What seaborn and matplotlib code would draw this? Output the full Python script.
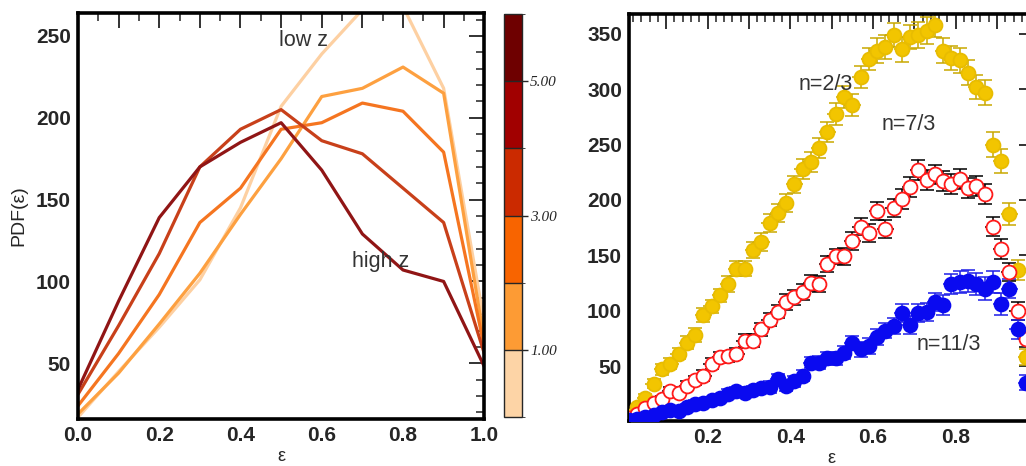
import numpy as np
import pandas as pd
import matplotlib
matplotlib.use("Agg")
import matplotlib.pyplot as plt
import matplotlib.colors as mcolors
from matplotlib.ticker import MultipleLocator, FuncFormatter
import seaborn as sns

# ---- left panel: PDF(eps) for several redshift bins ----
eps_grid = [0.0, 0.1, 0.2, 0.3, 0.4, 0.5, 0.6, 0.7, 0.8, 0.9, 1.0]
z_bins = ["z0", "z1", "z2", "z3", "z4"]
pdf_z0 = [17, 45, 72, 101, 145, 207, 239, 266, 268, 218, 75]
pdf_z1 = [19, 44, 74, 105, 141, 175, 213, 218, 231, 215, 64]
pdf_z2 = [24, 56, 92, 136, 157, 193, 197, 209, 204, 179, 60]
pdf_z3 = [31, 73, 117, 170, 193, 205, 186, 178, 157, 136, 56]
pdf_z4 = [34, 88, 139, 170, 185, 197, 168, 129, 107, 100, 48]
line_colors = ["#FDD0A2", "#FDA040", "#F57520", "#C8401A", "#901515"]

# colorbar bins
cbar_bounds = [0, 1, 2, 3, 4, 5, 6]
cbar_colors = ["#FDD4A6", "#FD9B34", "#F86400", "#CB2A00", "#A10000", "#6E0000"]
cbar_ticks = [1, 3, 5]

# ---- right panel: PDF for three spectral indices ----
eps_pts = [0.01, 0.03, 0.05, 0.07, 0.09, 0.11, 0.13, 0.15, 0.17, 0.19,
           0.21, 0.23, 0.25, 0.27, 0.29, 0.31, 0.33, 0.35, 0.37, 0.39,
           0.41, 0.43, 0.45, 0.47, 0.49, 0.51, 0.53, 0.55, 0.57, 0.59,
           0.61, 0.63, 0.65, 0.67, 0.69, 0.71, 0.73, 0.75, 0.77, 0.79,
           0.81, 0.83, 0.85, 0.87, 0.89, 0.91, 0.93, 0.95, 0.97]
n23 = [5, 13, 21, 34, 47, 52, 61, 71, 78, 96,
       104, 114, 124, 138, 138, 155, 162, 179, 188, 197,
       214, 228, 234, 247, 261, 278, 293, 286, 311, 327,
       335, 338, 349, 336, 347, 349, 353, 358, 335, 328,
       326, 315, 302, 297, 250, 235, 187, 137, 58]
n23_err = [3, 3, 4, 4, 5, 5, 5, 6, 6, 6,
           6, 6, 7, 7, 7, 7, 8, 8, 8, 8,
           8, 9, 9, 9, 9, 10, 10, 10, 10, 10,
           11, 11, 11, 11, 11, 12, 12, 11, 11, 11,
           11, 11, 11, 11, 11, 11, 10, 9, 7]
n73 = [3, 7, 12, 17, 20, 27, 26, 32, 37, 41,
       52, 58, 59, 61, 73, 73, 83, 92, 99, 108,
       112, 117, 125, 124, 142, 149, 149, 163, 176, 170,
       190, 174, 193, 201, 212, 227, 218, 223, 217, 214,
       219, 211, 213, 205, 176, 156, 135, 100, 74]
n73_err = [2, 2, 3, 3, 3, 4, 4, 4, 4, 5,
           5, 5, 5, 5, 6, 6, 6, 6, 6, 7,
           7, 7, 7, 7, 7, 7, 8, 8, 8, 8,
           8, 8, 8, 9, 9, 9, 9, 9, 9, 9,
           9, 9, 9, 9, 9, 9, 8, 8, 7]
n113 = [1, 2, 4, 6, 8, 10, 9, 13, 16, 17,
        19, 21, 25, 27, 26, 28, 30, 31, 38, 32,
        36, 41, 53, 53, 57, 57, 62, 71, 65, 68,
        76, 82, 86, 98, 87, 98, 99, 108, 105, 124,
        126, 127, 124, 120, 126, 106, 120, 83, 35]
n113_err = [1, 1, 2, 2, 2, 2, 3, 3, 3, 3,
            3, 3, 4, 4, 4, 4, 4, 5, 5, 5,
            5, 5, 5, 6, 6, 6, 6, 6, 7, 7,
            7, 7, 7, 8, 8, 8, 8, 8, 9, 9,
            10, 10, 10, 10, 10, 10, 9, 9, 7]

# ---- style ----
sns.set_style("white")
plt.rcParams["font.family"] = ["Liberation Sans", "DejaVu Sans"]
plt.rcParams["axes.linewidth"] = 2.6

fig = plt.figure(figsize=(10.26, 4.66), dpi=100)
ax1 = fig.add_axes([0.076, 0.101, 0.396, 0.871])
cax = fig.add_axes([0.491, 0.105, 0.0175, 0.865])
ax2 = fig.add_axes([0.613, 0.097, 0.395, 0.873])

# left panel lines
rows = []
for zname, vals in zip(z_bins, [pdf_z0, pdf_z1, pdf_z2, pdf_z3, pdf_z4]):
    for e, v in zip(eps_grid, vals):
        rows.append({"eps": e, "pdf": v, "zbin": zname})
df_left = pd.DataFrame(rows)
sns.lineplot(data=df_left, x="eps", y="pdf", hue="zbin", palette=line_colors,
             linewidth=2.3, legend=False, ax=ax1)
ax1.set_xlim(0, 1)
ax1.set_ylim(16, 264)
ax1.set_xlabel("ε", fontsize=13, labelpad=2)
ax1.set_ylabel("PDF(ε)", fontsize=14, labelpad=6)
ax1.text(0.554, 247, "low z", fontsize=15.5, color="#333333", ha="center", va="center")
ax1.text(0.744, 112, "high z", fontsize=15.5, color="#333333", ha="center", va="center")


def even_label(v, pos):
    k = int(round(v * 10))
    return f"{v:.1f}" if k % 2 == 0 else ""


def style_axis(ax, xminor, yminor):
    ax.xaxis.set_major_locator(MultipleLocator(0.1))
    ax.xaxis.set_major_formatter(FuncFormatter(even_label))
    ax.xaxis.set_minor_locator(MultipleLocator(xminor))
    ax.yaxis.set_major_locator(MultipleLocator(50))
    ax.yaxis.set_minor_locator(MultipleLocator(yminor))
    ax.tick_params(which="major", direction="in", length=11, width=1.3,
                   top=True, right=True, labelsize=15, pad=5, color="#222222")
    ax.tick_params(which="minor", direction="in", length=5.5, width=1.1,
                   top=True, right=True, color="#222222")
    for lab in ax.get_xticklabels() + ax.get_yticklabels():
        lab.set_fontweight("bold")
    for sp in ax.spines.values():
        sp.set_visible(True)
        sp.set_color("black")


style_axis(ax1, 0.05, 10)

# colorbar
cmap = mcolors.ListedColormap(cbar_colors)
norm = mcolors.BoundaryNorm(cbar_bounds, cmap.N)
cb = matplotlib.colorbar.ColorbarBase(cax, cmap=cmap, norm=norm, ticks=cbar_ticks,
                                      drawedges=True)
cb.outline.set_linewidth(1.0)
cb.dividers.set_linewidth(1.0)
cax.tick_params(direction="out", length=4, width=1, pad=2)
cax.set_yticklabels(["1.00", "3.00", "5.00"], fontsize=11, style="italic",
                    family=["Liberation Serif", "DejaVu Serif"])

# right panel
series = [
    (n23, n23_err, "#F2C500", "#C9A800", "#E8BC00"),
    (n73, n73_err, "white", "black", "#FF1A1A"),
    (n113, n113_err, "#0A0AF0", "#1E1EE8", "#0A0AF0"),
]
for vals, errs, face, ecol, edge in series:
    ax2.errorbar(eps_pts, vals, xerr=0.02, fmt="none", ecolor=ecol,
                 elinewidth=1.1, capsize=0, zorder=2)
    ax2.errorbar(eps_pts, vals, yerr=errs, fmt="none", ecolor=ecol,
                 elinewidth=1.1, capsize=5, capthick=1.1, zorder=2)
    df_r = pd.DataFrame({"eps": eps_pts, "pdf": vals})
    sns.scatterplot(data=df_r, x="eps", y="pdf", s=100, color=face,
                    edgecolor=edge, linewidth=1.3, zorder=3, ax=ax2)

ax2.set_xlim(0.01, 0.99)
ax2.set_ylim(0.5, 368)
ax2.set_xlabel("ε", fontsize=13, labelpad=2)
ax2.set_ylabel("")
ax2.text(0.485, 304, "n=2/3", fontsize=15.5, color="#333333", ha="center", va="center")
ax2.text(0.686, 268, "n=7/3", fontsize=15.5, color="#333333", ha="center", va="center")
ax2.text(0.783, 69, "n=11/3", fontsize=15.5, color="#333333", ha="center", va="center")
style_axis(ax2, 0.02, 10)

fig.savefig("out.png", dpi=100)
